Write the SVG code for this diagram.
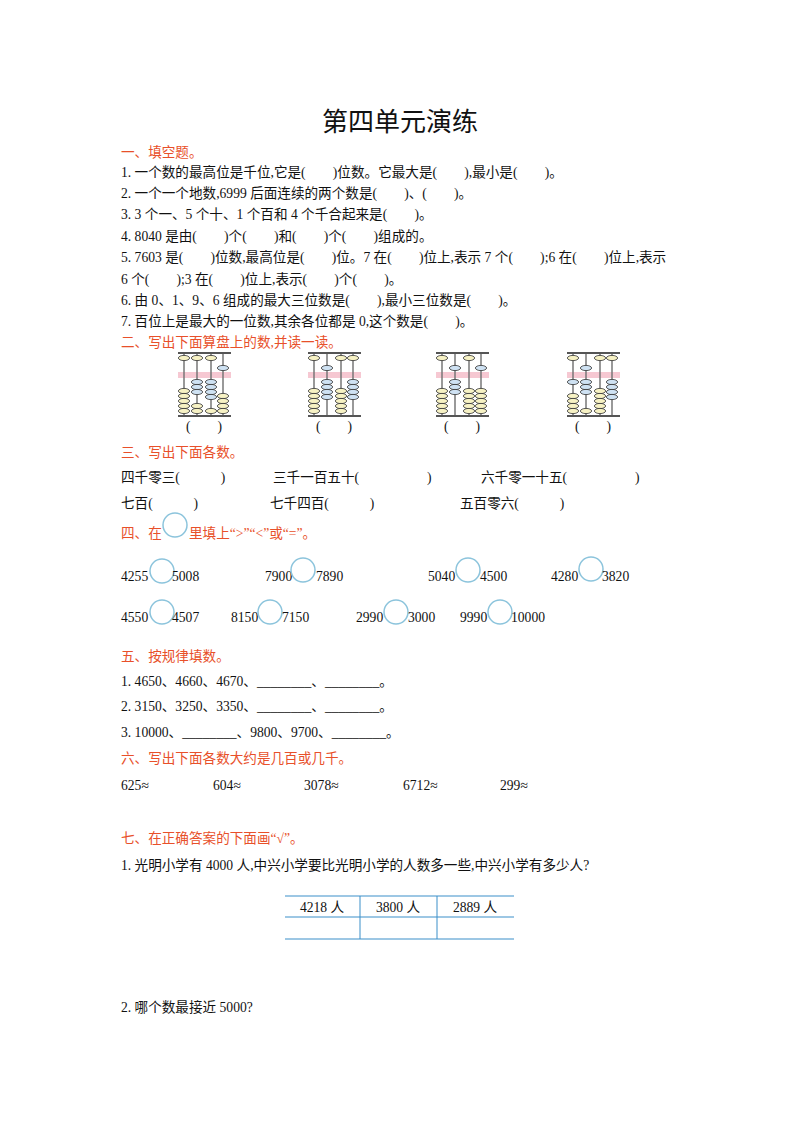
<svg xmlns="http://www.w3.org/2000/svg" width="800" height="1132" viewBox="0 0 800 1132">
<style>
text{font-family:"Liberation Serif","Noto Sans CJK SC",serif;font-size:13.6px;fill:#111}
.h{fill:#e8502a}
.t{font-size:26px}
.c{fill:none;stroke:#8cc4dc;stroke-width:1.5}
.bar{fill:#555}
.rod{stroke:#777;stroke-width:1.5}
.band{fill:#f6c8d2}
.y{fill:#f7f2c4;stroke:#333;stroke-width:0.8}
.b{fill:#cfe2f3;stroke:#333;stroke-width:0.8}
.tl{stroke:#3b8fc9;stroke-width:1}
</style>
<defs>
<ellipse id="Y" class="y" rx="5.6" ry="2.6"/>
<ellipse id="B" class="b" rx="5.6" ry="2.6"/>
<g id="frame">
<rect class="band" x="0" y="372" width="53" height="6"/>
<line class="rod" x1="6" y1="354" x2="6" y2="416"/><line class="rod" x1="19" y1="354" x2="19" y2="416"/>
<line class="rod" x1="33" y1="354" x2="33" y2="416"/><line class="rod" x1="45" y1="354" x2="45" y2="416"/>
<rect class="bar" x="0" y="352" width="53" height="2"/><rect class="bar" x="0" y="415" width="53" height="2"/>
</g>
</defs>
<text class="t" x="400" y="131" text-anchor="middle">第四单元演练</text>
<text class="h" x="121" y="157">一、填空题。</text>
<text x="121" y="177">1. 一个数的最高位是千位,它是(　　)位数。它最大是(　　),最小是(　　)。</text>
<text x="121" y="198">2. 一个一个地数,6999 后面连续的两个数是(　　)、(　　)。</text>
<text x="121" y="219">3. 3 个一、5 个十、1 个百和 4 个千合起来是(　　)。</text>
<text x="121" y="241">4. 8040 是由(　　)个(　　)和(　　)个(　　)组成的。</text>
<text x="121" y="262">5. 7603 是(　　)位数,最高位是(　　)位。7 在(　　)位上,表示 7 个(　　);6 在(　　)位上,表示</text>
<text x="121" y="284">6 个(　　);3 在(　　)位上,表示(　　)个(　　)。</text>
<text x="121" y="305">6. 由 0、1、9、6 组成的最大三位数是(　　),最小三位数是(　　)。</text>
<text x="121" y="326">7. 百位上是最大的一位数,其余各位都是 0,这个数是(　　)。</text>
<text class="h" x="121" y="347">二、写出下面算盘上的数,并读一读。</text>
<g id="abacus1" transform="translate(178,0)"><use href="#frame"/>
<use href="#Y" x="6" y="358"/><use href="#Y" x="6" y="391"/><use href="#Y" x="6" y="396"/><use href="#Y" x="6" y="401"/><use href="#Y" x="6" y="406"/><use href="#Y" x="6" y="411"/>
<use href="#Y" x="19" y="358"/><use href="#B" x="19" y="382"/><use href="#B" x="19" y="387"/><use href="#B" x="19" y="392"/><use href="#Y" x="19" y="406"/><use href="#Y" x="19" y="411"/>
<use href="#Y" x="33" y="358"/><use href="#B" x="33" y="382"/><use href="#B" x="33" y="387"/><use href="#B" x="33" y="392"/><use href="#B" x="33" y="397"/><use href="#Y" x="33" y="411"/>
<use href="#B" x="45" y="368"/><use href="#Y" x="45" y="396"/><use href="#Y" x="45" y="401"/><use href="#Y" x="45" y="406"/><use href="#Y" x="45" y="411"/>
<text x="26" y="431" text-anchor="middle">(　　)</text></g>
<g id="abacus2" transform="translate(308,0)"><use href="#frame"/>
<use href="#Y" x="6" y="358"/><use href="#Y" x="6" y="391"/><use href="#Y" x="6" y="396"/><use href="#Y" x="6" y="401"/><use href="#Y" x="6" y="406"/><use href="#Y" x="6" y="411"/>
<use href="#B" x="19" y="368"/><use href="#B" x="19" y="382"/><use href="#B" x="19" y="387"/><use href="#B" x="19" y="392"/><use href="#B" x="19" y="397"/>
<use href="#Y" x="33" y="358"/><use href="#Y" x="33" y="391"/><use href="#Y" x="33" y="396"/><use href="#Y" x="33" y="401"/><use href="#Y" x="33" y="406"/><use href="#Y" x="33" y="411"/>
<use href="#Y" x="45" y="358"/><use href="#B" x="45" y="382"/><use href="#B" x="45" y="387"/><use href="#B" x="45" y="392"/><use href="#B" x="45" y="397"/>
<text x="26" y="431" text-anchor="middle">(　　)</text></g>
<g id="abacus3" transform="translate(436,0)"><use href="#frame"/>
<use href="#Y" x="6" y="358"/><use href="#Y" x="6" y="391"/><use href="#Y" x="6" y="396"/><use href="#Y" x="6" y="401"/><use href="#Y" x="6" y="406"/><use href="#Y" x="6" y="411"/>
<use href="#B" x="19" y="368"/><use href="#B" x="19" y="382"/><use href="#B" x="19" y="387"/><use href="#B" x="19" y="392"/>
<use href="#Y" x="33" y="358"/><use href="#Y" x="33" y="391"/><use href="#Y" x="33" y="396"/><use href="#Y" x="33" y="401"/><use href="#Y" x="33" y="406"/><use href="#Y" x="33" y="411"/>
<use href="#B" x="45" y="368"/><use href="#Y" x="45" y="391"/><use href="#Y" x="45" y="396"/><use href="#Y" x="45" y="401"/><use href="#Y" x="45" y="406"/><use href="#Y" x="45" y="411"/>
<text x="26" y="431" text-anchor="middle">(　　)</text></g>
<g id="abacus4" transform="translate(567,0)"><use href="#frame"/>
<use href="#Y" x="6" y="358"/><use href="#B" x="6" y="382"/><use href="#Y" x="6" y="396"/><use href="#Y" x="6" y="401"/><use href="#Y" x="6" y="406"/><use href="#Y" x="6" y="411"/>
<use href="#B" x="19" y="368"/><use href="#B" x="19" y="382"/><use href="#B" x="19" y="387"/><use href="#B" x="19" y="392"/><use href="#Y" x="19" y="411"/>
<use href="#Y" x="33" y="358"/><use href="#Y" x="33" y="391"/><use href="#Y" x="33" y="396"/><use href="#Y" x="33" y="401"/><use href="#Y" x="33" y="406"/><use href="#Y" x="33" y="411"/>
<use href="#Y" x="45" y="358"/><use href="#B" x="45" y="382"/><use href="#B" x="45" y="387"/><use href="#B" x="45" y="392"/><use href="#B" x="45" y="397"/>
<text x="26" y="431" text-anchor="middle">(　　)</text></g>
<text class="h" x="121" y="457">三、写出下面各数。</text>
<text x="121" y="482">四千零三(　　　)</text>
<text x="273" y="482">三千一百五十(　　　　　)</text>
<text x="481" y="482">六千零一十五(　　　　　)</text>
<text x="121" y="508">七百(　　　)</text>
<text x="270" y="508">七千四百(　　　)</text>
<text x="460" y="508">五百零六(　　　)</text>
<text class="h" x="121" y="538">四、在　　里填上“&gt;”“&lt;”或“=”。</text>
<circle class="c" cx="175" cy="525" r="12"/>
<g><text x="121" y="581">4255</text><circle class="c" cx="162" cy="571" r="12"/><text x="172" y="581">5008</text>
<text x="265" y="581">7900</text><circle class="c" cx="303" cy="570" r="12"/><text x="316" y="581">7890</text>
<text x="428" y="581">5040</text><circle class="c" cx="468" cy="570" r="12"/><text x="480" y="581">4500</text>
<text x="551" y="581">4280</text><circle class="c" cx="591" cy="569" r="12"/><text x="602" y="581">3820</text>
<text x="121" y="622">4550</text><circle class="c" cx="162" cy="612" r="12"/><text x="172" y="622">4507</text>
<text x="231" y="622">8150</text><circle class="c" cx="270" cy="612" r="12"/><text x="282" y="622">7150</text>
<text x="356" y="622">2990</text><circle class="c" cx="396" cy="612" r="12"/><text x="408" y="622">3000</text>
<text x="460" y="622">9990</text><circle class="c" cx="500" cy="612" r="12"/><text x="511" y="622">10000</text></g>
<text class="h" x="121" y="661">五、按规律填数。</text>
<text x="121" y="686">1. 4650、4660、4670、________、________。</text>
<text x="121" y="711">2. 3150、3250、3350、________、________。</text>
<text x="121" y="737">3. 10000、________、9800、9700、________。</text>
<text class="h" x="121" y="763">六、写出下面各数大约是几百或几千。</text>
<text x="121" y="790">625≈</text>
<text x="213" y="790">604≈</text>
<text x="304" y="790">3078≈</text>
<text x="403" y="790">6712≈</text>
<text x="500" y="790">299≈</text>
<text class="h" x="121" y="843">七、在正确答案的下面画“√”。</text>
<text x="121" y="870">1. 光明小学有 4000 人,中兴小学要比光明小学的人数多一些,中兴小学有多少人?</text>
<g id="table">
<line class="tl" x1="285" y1="896" x2="514" y2="896"/><line class="tl" x1="285" y1="917" x2="514" y2="917"/><line class="tl" x1="285" y1="939" x2="514" y2="939"/>
<line class="tl" x1="360" y1="896" x2="360" y2="939"/><line class="tl" x1="437" y1="896" x2="437" y2="939"/>
<text x="322" y="912" text-anchor="middle">4218 人</text><text x="398" y="912" text-anchor="middle">3800 人</text><text x="475" y="912" text-anchor="middle">2889 人</text>
</g>
<text x="121" y="1012">2. 哪个数最接近 5000?</text>
</svg>
